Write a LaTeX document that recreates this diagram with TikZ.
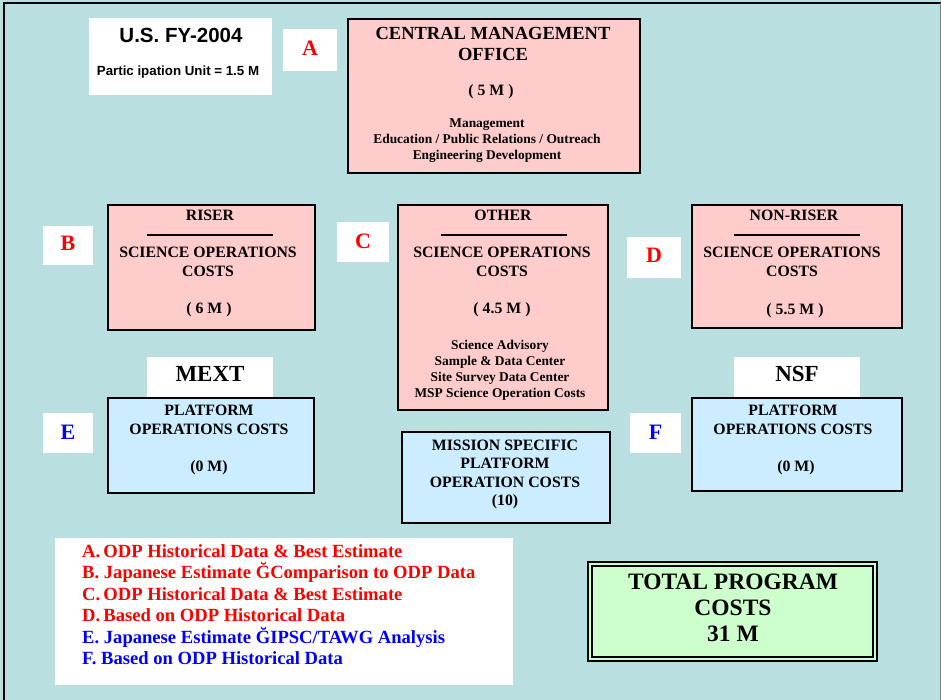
\documentclass[tikz,border=0pt]{standalone}
\usepackage{fontspec}
\setmainfont{Liberation Serif}
\newfontfamily\arialf{Liberation Sans}
\definecolor{bgteal}{HTML}{B9DFE1}
\definecolor{pinkbox}{HTML}{FFCCCC}
\definecolor{bluebox}{HTML}{CCECFF}
\definecolor{greenbox}{HTML}{CCFFCC}
\definecolor{lblred}{HTML}{FF0000}
\definecolor{lblblue}{HTML}{0000FF}
\newcommand{\fs}[2]{\fontsize{#1}{#2}\selectfont}
\begin{document}
\begin{tikzpicture}[x=1pt,y=-1pt,
  box/.style={draw=black, line width=2pt, inner sep=0pt, outer sep=0pt},
  pinkb/.style={box, fill=pinkbox},
  blueb/.style={box, fill=bluebox},
  whiteb/.style={fill=white, inner sep=0pt, outer sep=0pt},
  txt/.style={inner sep=0pt, align=center, font=\bfseries},
  ttl/.style={txt, font=\bfseries\fs{15.8}{19}},
  sml/.style={txt, font=\bfseries\fs{13.4}{16}},
  lbl/.style={inner sep=0pt, font=\bfseries\fs{22}{24}},
  leg/.style={inner sep=0pt, anchor=west, font=\bfseries\fs{18.6}{20}},
  bar/.style={line width=2.5pt}
]
\useasboundingbox (0,0) rectangle (941,700);
\fill[bgteal] (0,0) rectangle (941,700);
\draw[line width=2.5pt] (4,700) -- (4,3) -- (941,3);
\draw[gray, line width=1pt] (940,3) -- (940,700);

% U.S. FY-2004 box
\node[whiteb, minimum width=183pt, minimum height=77pt] (usbox) at (180.5,56.5) {};
\node[txt, font=\arialf\bfseries\fs{20.5}{22}] (ustitle) at (181,35) {U.S. FY-2004};
\node[txt, font=\arialf\bfseries\fs{13.3}{15}] (usunit) at (178,72) {Partic ipation Unit = 1.5 M};

% letter labels
\node[whiteb, minimum width=54pt, minimum height=42pt] (labA) at (310,50) {};
\node[lbl, text=lblred] (ltA) at (310,48.5) {A};
\node[whiteb, minimum width=50pt, minimum height=39pt] (labB) at (68,245.5) {};
\node[lbl, text=lblred] (ltB) at (68,243.5) {B};
\node[whiteb, minimum width=52pt, minimum height=40pt] (labC) at (363,242) {};
\node[lbl, text=lblred] (ltC) at (363,241) {C};
\node[whiteb, minimum width=54pt, minimum height=41pt] (labD) at (654,257.5) {};
\node[lbl, text=lblred] (ltD) at (654,255.5) {D};
\node[whiteb, minimum width=50pt, minimum height=40pt] (labE) at (68,433) {};
\node[lbl, text=lblblue] (ltE) at (68,432) {E};
\node[whiteb, minimum width=51pt, minimum height=40pt] (labF) at (655.5,433) {};
\node[lbl, text=lblblue] (ltF) at (655.5,432) {F};

% Central management office
\node[pinkb, minimum width=292pt, minimum height=154pt] (cmo) at (494,96) {};
\node[txt, font=\bfseries\fs{18.5}{21}] (cmot) at (493,43.5) {CENTRAL MANAGEMENT\\OFFICE};
\node[ttl] (cmov) at (491,92) {( 5 M )};
\node[sml] (cmos) at (487,141) {Management\\Education / Public Relations / Outreach\\Engineering Development};

% Riser
\node[pinkb, minimum width=207pt, minimum height=125pt] (riser) at (211.5,267.5) {};
\node[ttl] (riserh) at (210,215) {RISER};
\draw[bar] (147,235) -- (273,235);
\node[ttl] (risert) at (208,261.5) {SCIENCE OPERATIONS\\COSTS};
\node[ttl] (riserv) at (209,310) {( 6 M )};

% Other
\node[pinkb, minimum width=210pt, minimum height=205pt] (other) at (503,307.5) {};
\node[ttl] (otherh) at (503,215) {OTHER};
\draw[bar] (441,235) -- (567,235);
\node[ttl] (othert) at (502,262) {SCIENCE OPERATIONS\\COSTS};
\node[ttl] (otherv) at (502,310) {( 4.5 M )};
\node[sml] (others) at (500,370) {Science Advisory\\Sample \& Data Center\\Site Survey Data Center\\MSP Science Operation Costs};

% Non-riser
\node[pinkb, minimum width=210pt, minimum height=123pt] (nonriser) at (797,266.5) {};
\node[ttl] (nonrh) at (794,215) {NON-RISER};
\draw[bar] (734,235) -- (860,235);
\node[ttl] (nonrt) at (792,262) {SCIENCE OPERATIONS\\COSTS};
\node[ttl] (nonrv) at (795,311) {( 5.5 M )};

% MEXT / platform E
\node[whiteb, minimum width=126pt, minimum height=40pt] (mext) at (210,377) {};
\node[txt, font=\bfseries\fs{23}{25}] (mextt) at (210,374) {MEXT};
\node[blueb, minimum width=206pt, minimum height=95pt] (platE) at (211,445.5) {};
\node[ttl] (platEt) at (209,420) {PLATFORM\\OPERATIONS COSTS};
\node[ttl] (platEv) at (209,468) {(0 M)};

% Mission specific
\node[blueb, minimum width=208pt, minimum height=91pt] (msp) at (506,477.5) {};
\node[txt, font=\bfseries\fs{15.8}{18.5}] (mspt) at (505,474.5) {MISSION SPECIFIC\\PLATFORM\\OPERATION COSTS\\(10)};

% NSF / platform F
\node[whiteb, minimum width=126pt, minimum height=40pt] (nsf) at (797,377) {};
\node[txt, font=\bfseries\fs{23}{25}] (nsft) at (797,374) {NSF};
\node[blueb, minimum width=210pt, minimum height=93pt] (platF) at (797,444.5) {};
\node[ttl] (platFt) at (793,420) {PLATFORM\\OPERATIONS COSTS};
\node[ttl] (platFv) at (796,468) {(0 M)};

% Legend
\node[whiteb, minimum width=458pt, minimum height=147pt] (legend) at (284,611.5) {};
\node[leg, text=lblred] (legA) at (82,551) {A.\,ODP Historical Data \& Best Estimate};
\node[leg, text=lblred] (legB) at (82,572) {B. Japanese Estimate ĞComparison to ODP Data};
\node[leg, text=lblred] (legC) at (82,594) {C.\,ODP Historical Data \& Best Estimate};
\node[leg, text=lblred] (legD) at (82,615) {D.\,Based on ODP Historical Data};
\node[leg, text=lblblue] (legE) at (82,637) {E. Japanese Estimate ĞIPSC/TAWG Analysis};
\node[leg, text=lblblue] (legF) at (82,658) {F. Based on ODP Historical Data};

% Total
\node[draw=black, line width=1.2pt, fill=greenbox, inner sep=0pt, minimum width=289pt, minimum height=99pt] (total) at (732.5,611.5) {};
\draw[line width=2.2pt] ([shift={(4.5,4.5)}]total.north west) rectangle ([shift={(-4.5,-4.5)}]total.south east);
\node[txt, font=\bfseries\fs{23.5}{26}] (totalt) at (733,608) {TOTAL PROGRAM\\COSTS\\31 M};
\end{tikzpicture}
\end{document}
